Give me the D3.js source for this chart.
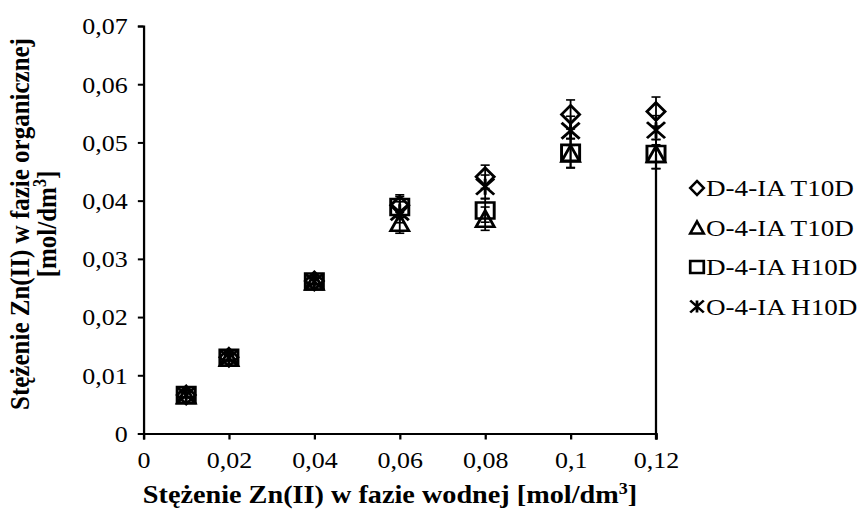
<!DOCTYPE html>
<html lang="pl">
<head>
<meta charset="utf-8">
<title>Zn(II) extraction</title>
<script src="https://cdn.jsdelivr.net/npm/d3@7"></script>
<style>
  body { margin: 0; background: #fff; }
  svg { display: block; }
  svg text { font-family: "Liberation Serif", "Times New Roman", serif; fill: #000; }
  .tick text { font-size: 23px; }
  .axis-title { font-size: 25px; font-weight: bold; }
  .legend text { font-size: 24px; }
</style>
</head>
<body>
<div id="chart"></div>
<script>
// values
const xValues = [0.01, 0.02, 0.04, 0.06, 0.08, 0.10, 0.12];
const d4iaT10D = [0.0066, 0.0131, 0.0262, 0.0392, 0.0441, 0.0548, 0.0553];
const o4iaT10D = [0.0066, 0.0130, 0.0261, 0.0362, 0.0369, 0.0481, 0.0480];
const d4iaH10D = [0.0066, 0.0130, 0.0261, 0.0389, 0.0383, 0.0482, 0.0480];
const o4iaH10D = [0.0066, 0.0130, 0.0261, 0.0380, 0.0424, 0.0520, 0.0521];
const errValues = [0.0004, 0.0005, 0.0005, 0.0018, 0.0020, 0.0025, 0.0025];
const seriesNames = ["D-4-IA T10D", "O-4-IA T10D", "D-4-IA H10D", "O-4-IA H10D"];
const xTicks = [0, 0.02, 0.04, 0.06, 0.08, 0.1, 0.12];
const yTicks = [0, 0.01, 0.02, 0.03, 0.04, 0.05, 0.06, 0.07];

const w = 864, h = 514;
// the picture is a bit wider than tall in its glyphs, so draw in a narrower box and stretch
const k = 1.13;
const iw = w / k;
const X = (px) => px / k;
const plotLeft = X(143.5), plotRight = X(656), plotTop = 26, plotBottom = 433.5;

const svg = d3.select("#chart").append("svg")
  .attr("width", w).attr("height", h)
  .attr("viewBox", `0 0 ${iw} ${h}`)
  .attr("preserveAspectRatio", "none");

const xScale = d3.scaleLinear().domain([0, 0.12]).range([plotLeft, plotRight]);
const yScale = d3.scaleLinear().domain([0, 0.07]).range([plotBottom, plotTop]);

const fmt = (d) => String(+d.toFixed(2)).replace(".", ",");

const xAxis = d3.axisBottom(xScale).tickValues(xTicks).tickFormat(fmt).tickSize(6).tickPadding(12);
const yAxis = d3.axisLeft(yScale).tickValues(yTicks).tickFormat(fmt).tickSize(5).tickPadding(9);

const gx = svg.append("g").attr("transform", `translate(0,${plotBottom})`).call(xAxis);
const gy = svg.append("g").attr("transform", `translate(${plotLeft},0)`).call(yAxis);
[gx, gy].forEach(g => {
  g.attr("font-family", null).attr("font-size", null);
  g.select(".domain").attr("stroke", "#000").attr("stroke-width", 2);
  g.selectAll(".tick line").attr("stroke", "#000").attr("stroke-width", 2);
});
gy.selectAll(".tick text").attr("dy", "0.34em");

// marker shapes
const r = 8;
const shapes = [
  (cx, cy) => `M${cx},${cy - r - 1}L${cx + r},${cy}L${cx},${cy + r + 1}L${cx - r},${cy}Z`,
  (cx, cy) => `M${cx},${cy - r}L${cx + r},${cy + r}L${cx - r},${cy + r}Z`,
  (cx, cy) => `M${cx - r},${cy - r}H${cx + r}V${cy + r}H${cx - r}Z`,
  (cx, cy) => `M${cx - r},${cy - r}L${cx + r},${cy + r}M${cx + r},${cy - r}L${cx - r},${cy + r}M${cx},${cy - r}V${cy + r}`
];

const allSeries = [d4iaT10D, o4iaT10D, d4iaH10D, o4iaH10D];

// error bars
const errG = svg.append("g").attr("stroke", "#000").attr("stroke-width", 1.6);
allSeries.forEach((vals) => {
  vals.forEach((v, i) => {
    const x = xScale(xValues[i]);
    const y1 = yScale(v + errValues[i]), y2 = yScale(v - errValues[i]);
    errG.append("line").attr("x1", x).attr("x2", x).attr("y1", y1).attr("y2", y2);
    errG.append("line").attr("x1", x - 4).attr("x2", x + 4).attr("y1", y1).attr("y2", y1);
    errG.append("line").attr("x1", x - 4).attr("x2", x + 4).attr("y1", y2).attr("y2", y2);
  });
});
// long lower bar at the last point of D-4-IA H10D
errG.append("line")
  .attr("x1", xScale(0.12)).attr("x2", xScale(0.12))
  .attr("y1", yScale(d4iaH10D[6])).attr("y2", yScale(0) + 6)
  .attr("stroke-width", 2);

// markers
allSeries.forEach((vals, s) => {
  svg.append("g").selectAll("path")
    .data(vals)
    .join("path")
    .attr("d", (d, i) => shapes[s](xScale(xValues[i]), yScale(d)))
    .attr("fill", "none")
    .attr("stroke", "#000")
    .attr("stroke-width", 2.6);
});

// legend
const legend = svg.append("g").attr("class", "legend");
const lx = X(697);
seriesNames.forEach((name, i) => {
  const ly = 188 + i * 39.5;
  const lr = 6;
  let p;
  if (i === 0) p = `M${lx},${ly - lr - 1}L${lx + lr},${ly}L${lx},${ly + lr + 1}L${lx - lr},${ly}Z`;
  if (i === 1) p = `M${lx},${ly - lr}L${lx + lr},${ly + lr}L${lx - lr},${ly + lr}Z`;
  if (i === 2) p = `M${lx - lr},${ly - lr}H${lx + lr}V${ly + lr}H${lx - lr}Z`;
  if (i === 3) p = `M${lx - lr},${ly - lr}L${lx + lr},${ly + lr}M${lx + lr},${ly - lr}L${lx - lr},${ly + lr}M${lx},${ly - lr}V${ly + lr}`;
  legend.append("path").attr("d", p).attr("fill", "none").attr("stroke", "#000").attr("stroke-width", 2.4);
  legend.append("text").attr("x", X(706)).attr("y", ly).attr("dy", "0.35em").text(name);
});

// axis titles
const xt = svg.append("text").attr("class", "axis-title")
  .attr("x", X(390)).attr("y", 503).attr("text-anchor", "middle");
xt.append("tspan").text("Stężenie Zn(II) w fazie wodnej [mol/dm");
xt.append("tspan").attr("dy", -9).attr("font-size", 16).text("3");
xt.append("tspan").attr("dy", 9).text("]");

const yt = svg.append("text").attr("class", "axis-title")
  .attr("transform", `translate(${X(29)},224) rotate(-90)`).attr("text-anchor", "middle")
  .text("Stężenie Zn(II) w fazie organicznej");
const yt2 = svg.append("text").attr("class", "axis-title")
  .attr("transform", `translate(${X(56)},224) rotate(-90)`).attr("text-anchor", "middle");
yt2.append("tspan").text("[mol/dm");
yt2.append("tspan").attr("dy", -9).attr("font-size", 16).text("3");
yt2.append("tspan").attr("dy", 9).text("]");
</script>
</body>
</html>
